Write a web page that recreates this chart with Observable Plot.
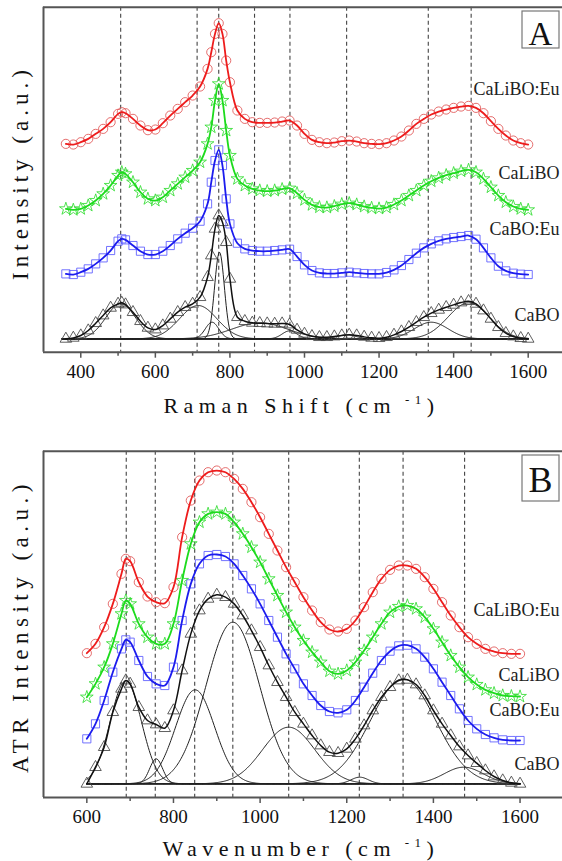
<!DOCTYPE html>
<html><head><meta charset="utf-8">
<script src="https://cdn.jsdelivr.net/npm/d3@7"></script>
<script src="https://cdn.jsdelivr.net/npm/@observablehq/plot@0.6"></script>
<style>
body{margin:0;background:#fff;}
#chart svg{display:block;}
#chart svg text{font-family:"Liberation Serif","DejaVu Serif","Times New Roman",serif !important;}
</style></head><body><div id="chart"></div>
<script>
const serif = '"Liberation Serif", "DejaVu Serif", "Times New Roman", serif';

// ---- series ----
const seriesNames = ["CaLiBO:Eu", "CaLiBO", "CaBO:Eu", "CaBO"];
const seriesColors = ["#ee1c1c", "#1ddb1d", "#1c1cee", "#111111"];
const markerColors = ["#e05555", "#33dd33", "#5a5aff", "#444444"];
const markerSymbols = ["circle", "star", "square", "triangle"];
const markerR = [4.6, 4.0, 4.6, 4.3];

// ---- Panel A: Raman ----
const ramanShift = [360,380,400,420,440,460,480,500,510,520,540,560,580,600,620,640,660,680,700,720,740,750,760,770,780,790,800,
  820,840,860,880,900,920,940,960,980,1000,1020,1040,1060,1080,1100,1120,1140,1160,1180,1200,1220,1240,1260,1280,1300,1320,1340,1360,1380,1400,1420,1440,1460,1480,1500,1520,1540,1560,1580,1600];
const ramanCaLiBOEu = [625,623,630,640,655,670,690,715,720,717,700,680,666,668,687,710,730,750,770,797,850,900,955,987,955,875,810,
  725,700,690,688,688,689,692,695,680,655,637,630,627,629,633,635,632,627,625,624,627,635,647,665,685,700,713,722,728,733,737,739,733,717,693,670,650,635,627,623];
const ramanCaLiBO = [430,427,430,440,455,475,500,530,540,535,510,480,460,455,465,485,505,525,545,570,625,675,755,805,755,665,590,
  520,500,490,485,483,485,489,492,477,457,442,435,434,438,444,447,443,437,433,431,434,443,455,470,485,500,513,523,531,537,543,547,540,520,495,470,450,437,430,427];
const ramanCaBOEu = [235,233,240,250,265,283,305,333,340,337,320,303,293,293,303,320,340,357,372,393,445,510,575,607,560,460,385,
  327,310,305,303,303,305,307,309,287,262,245,238,236,236,238,240,238,236,235,235,239,247,260,278,297,313,325,334,340,344,347,350,339,313,283,258,244,237,234,233];
const ramanCaBO = [40,43,50,65,87,110,133,145,148,143,120,93,73,68,80,100,120,135,145,165,225,290,370,410,390,330,220,
  105,93,88,87,86,85,86,83,67,55,48,45,45,47,50,52,50,46,43,42,45,52,62,75,90,105,117,127,135,142,149,153,145,125,100,75,57,47,42,40];
const ramanPeaks = [507, 712, 770, 866, 961, 1113, 1332, 1447];
const ramanTicks = [400, 600, 800, 1000, 1200, 1400, 1600];
const ramanMinorTicks = [500, 700, 900, 1100, 1300, 1500];
const ramanLabelY = [790, 538, 370, 110];
// Gaussian components fitted to CaBO (Raman)
const ramanFitBase = 40;
const ramanFitCenter = [507, 715, 752, 772, 880, 960, 1113, 1340, 1440];
const ramanFitHeight = [105, 100, 50, 260, 48, 24, 12, 50, 108];
const ramanFitWidth = [40, 50, 18, 13, 75, 20, 25, 45, 55];

// ---- Panel B: ATR ----
const atrWavenumber = [600,620,640,660,680,690,700,720,740,760,780,800,820,840,860,880,900,920,940,960,980,1000,1020,1040,1060,1080,1100,
  1120,1140,1160,1180,1200,1220,1240,1260,1280,1300,1320,1340,1360,1380,1400,1420,1440,1460,1480,1500,1520,1540,1560,1580,1600];
const atrCaLiBOEu = [433,461,511,581,671,716,709,646,603,586,583,631,781,891,951,976,981,976,956,926,886,841,791,741,691,646,601,
  561,526,504,498,506,531,571,616,656,683,696,696,686,661,626,586,546,511,481,461,446,438,433,431,431];
const atrCaLiBO = [301,341,391,461,551,591,581,521,481,461,461,521,651,761,826,851,856,851,826,791,751,706,656,606,556,511,471,
  436,406,379,371,381,406,441,481,521,556,573,576,566,541,506,466,426,391,361,339,323,313,306,304,303];
const atrCaBOEu = [176,221,291,376,446,473,466,411,363,341,336,391,531,641,701,726,729,723,701,666,626,581,531,481,431,386,341,
  306,276,258,254,263,291,331,373,411,439,455,457,446,421,386,346,306,266,231,206,189,179,173,171,171];
const atrCaBO = [41,91,151,256,326,351,341,271,231,219,208,261,381,491,561,596,608,601,581,546,501,451,396,346,301,256,221,
  186,156,136,133,146,176,216,261,301,331,351,353,339,306,261,221,186,153,126,103,81,63,51,44,41];
const atrPeaks = [691, 758, 849, 937, 1066, 1229, 1330, 1472];
const atrTicks = [600, 800, 1000, 1200, 1400, 1600];
const atrMinorTicks = [700, 900, 1100, 1300, 1500];
const atrLabelY = [561, 366, 261, 99];
// Gaussian components fitted to CaBO (ATR)
const atrFitBase = 41;
const atrFitCenter = [690, 760, 850, 937, 1066, 1230, 1330, 1470];
const atrFitHeight = [309, 75, 282, 485, 170, 20, 315, 50];
const atrFitWidth = [36, 15, 45, 62, 60, 20, 75, 45];

function fitRows(x0, x1, base, centers, heights, widths) {
  const rows = [];
  centers.forEach((c, k) => {
    for (let x = x0; x <= x1; x += 2) {
      rows.push({k, x, y: base + heights[k] * Math.exp(-((x - c) ** 2) / (2 * widths[k] ** 2))});
    }
  });
  return rows;
}

function panel(o) {
  const seriesMarks = [];
  for (let i = 3; i >= 0; i--) {
    const rows = o.xs.map((x, j) => ({x, y: o.series[i][j]}));
    seriesMarks.push(Plot.dot(rows, {x: "x", y: "y", symbol: markerSymbols[i], r: markerR[i],
      stroke: markerColors[i], fill: "none", strokeWidth: 1, strokeOpacity: 0.85}));
    seriesMarks.push(Plot.line(rows, {x: "x", y: "y", stroke: seriesColors[i],
      strokeWidth: i === 3 ? 1.5 : 1.8, curve: "catmull-rom"}));
  }
  const fit = fitRows(o.fitX0, o.fitX1, o.fitBase, o.fitCenter, o.fitHeight, o.fitWidth);
  const labels = seriesNames.map((name, i) => ({name, y: o.labelY[i]}));
  const svg = Plot.plot({
    width: 562, height: o.height,
    marginLeft: 43, marginRight: 0, marginTop: o.marginTop, marginBottom: o.marginBottom,
    style: {fontFamily: serif, fontSize: "19px", color: "#111", background: "white"},
    x: {domain: o.xDomain, label: null},
    y: {domain: o.yDomain, axis: null, label: null},
    marks: [
      Plot.ruleX(o.peaks, {stroke: "#444", strokeWidth: 1.1, strokeDasharray: "4,3"}),
      Plot.ruleY([o.fitBase], {x1: o.fitX0, x2: o.fitX1, stroke: "#222", strokeWidth: 1}),
      Plot.line(fit, {x: "x", y: "y", z: "k", stroke: "#222", strokeWidth: 1}),
      ...seriesMarks,
      Plot.text(labels, {y: "y", text: "name", frameAnchor: "right", textAnchor: "end", dx: -3,
        fontSize: 18, fill: "#222"}),
      Plot.ruleX([o.xDomain[0]], {stroke: "#555", strokeWidth: 2}),
      Plot.ruleY(o.yDomain, {stroke: "#555", strokeWidth: 2}),
      Plot.axisX({ticks: o.ticks, tickFormat: "d", tickSize: 6, tickPadding: 6, fontSize: 19,
        stroke: "#555", strokeWidth: 1.5, label: null}),
      Plot.axisX({ticks: o.minorTicks, tickFormat: () => "", tickSize: 4, stroke: "#555",
        strokeWidth: 1.5, label: null})
    ]
  });
  const s = d3.select(svg);
  const t = s.append("text").attr("x", o.xTitleX).attr("y", o.xTitleY).attr("text-anchor", "middle")
    .style("font-size", "22px").style("letter-spacing", "5.5px").attr("fill", "#111");
  t.append("tspan").text(o.xTitle + " (cm");
  t.append("tspan").attr("dy", -9).style("font-size", "13px").text(" -1");
  t.append("tspan").attr("dy", 9).text(")");
  s.append("text").attr("transform", `translate(28,${o.yTitleY}) rotate(-90)`).attr("text-anchor", "middle")
    .style("font-size", "23px").style("letter-spacing", o.yLetterSpacing).attr("fill", "#111")
    .text(o.yTitle);
  s.append("rect").attr("x", 522).attr("y", o.box[0]).attr("width", 37).attr("height", o.box[1])
    .attr("fill", "white").attr("stroke", "#777").attr("stroke-width", 1.2);
  s.append("text").attr("x", 540.5).attr("y", o.letterY).attr("text-anchor", "middle")
    .style("font-size", o.letterSize).attr("fill", "#111").text(o.letter);
  return svg;
}

const chart = document.getElementById("chart");
chart.appendChild(panel({
  height: 430, marginTop: 6.7, marginBottom: 78.3,
  xDomain: [300, 1692], yDomain: [0, 1035],
  xs: ramanShift, series: [ramanCaLiBOEu, ramanCaLiBO, ramanCaBOEu, ramanCaBO],
  peaks: ramanPeaks, ticks: ramanTicks, minorTicks: ramanMinorTicks, labelY: ramanLabelY,
  fitX0: 350, fitX1: 1600, fitBase: ramanFitBase, fitCenter: ramanFitCenter, fitHeight: ramanFitHeight, fitWidth: ramanFitWidth,
  xTitle: "Raman Shift", xTitleX: 301.5, xTitleY: 413,
  yTitle: "Intensity (a.u.)", yTitleY: 172.5, yLetterSpacing: "5px",
  box: [11, 37], letter: "A", letterY: 45, letterSize: "33px"
}));
chart.appendChild(panel({
  height: 431, marginTop: 20.7, marginBottom: 64,
  xDomain: [500, 1698], yDomain: [0, 1039],
  xs: atrWavenumber, series: [atrCaLiBOEu, atrCaLiBO, atrCaBOEu, atrCaBO],
  peaks: atrPeaks, ticks: atrTicks, minorTicks: atrMinorTicks, labelY: atrLabelY,
  fitX0: 600, fitX1: 1600, fitBase: atrFitBase, fitCenter: atrFitCenter, fitHeight: atrFitHeight, fitWidth: atrFitWidth,
  xTitle: "Wavenumber", xTitleX: 301, xTitleY: 425.5,
  yTitle: "ATR Intensity (a.u.)", yTitleY: 196, yLetterSpacing: "5.5px",
  box: [25, 46], letter: "B", letterY: 62, letterSize: "36px"
}));
</script></body></html>
